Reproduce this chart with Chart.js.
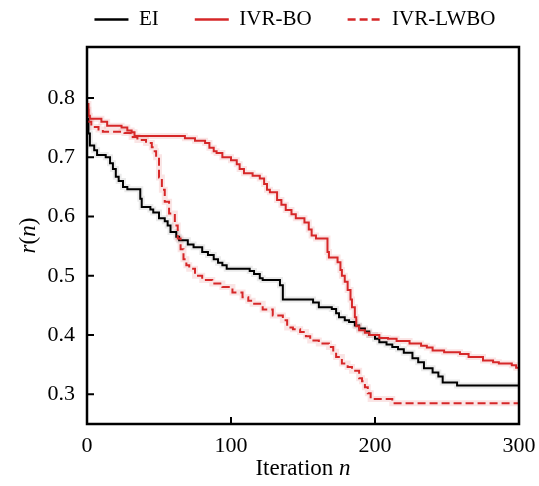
<!DOCTYPE html>
<html>
<head>
  <title>r(n) vs Iteration</title>
  <script src="https://cdn.jsdelivr.net/npm/chart.js"></script>
  <style>
    body {
      margin: 0;
      background-color: #fff;
    }
    canvas {
      display: block;
    }
  </style>
</head>
<body>
  <canvas id="regretChart" width="539" height="486"></canvas>

  <script>
    // values (best-so-far curves, step after each point)
    const eiIter = [0, 1, 2, 5, 7, 13, 16, 18, 20, 22, 25, 28, 37, 38, 44, 46, 50, 54, 56, 58, 62, 64, 70, 74, 80, 84, 88, 91, 94, 97, 113, 116, 120, 122, 134, 136, 157, 161, 170, 173, 175, 179, 182, 186, 189, 193, 196, 200, 203, 208, 212, 216, 220, 226, 230, 234, 240, 244, 247, 257, 300];
    const eiVal = [0.765, 0.74, 0.72, 0.712, 0.704, 0.70, 0.69, 0.68, 0.667, 0.66, 0.65, 0.646, 0.63, 0.616, 0.612, 0.607, 0.597, 0.592, 0.585, 0.574, 0.566, 0.56, 0.553, 0.548, 0.54, 0.535, 0.528, 0.522, 0.518, 0.512, 0.508, 0.503, 0.496, 0.493, 0.484, 0.46, 0.455, 0.447, 0.444, 0.437, 0.43, 0.425, 0.422, 0.416, 0.411, 0.406, 0.40, 0.394, 0.388, 0.384, 0.38, 0.376, 0.37, 0.361, 0.354, 0.344, 0.337, 0.33, 0.32, 0.315, 0.315];

    const boIter = [0, 1, 2, 10, 14, 24, 28, 31, 33, 68, 75, 82, 85, 88, 90, 94, 100, 104, 106, 109, 115, 120, 123, 125, 127, 132, 135, 138, 142, 145, 151, 154, 156, 159, 167, 168, 174, 176, 177, 179, 181, 183, 184, 186, 187, 189, 193, 196, 203, 209, 215, 224, 232, 236, 240, 248, 259, 265, 275, 282, 286, 295, 298, 300];
    const boVal = [0.79, 0.77, 0.765, 0.76, 0.753, 0.75, 0.745, 0.742, 0.736, 0.732, 0.728, 0.724, 0.716, 0.71, 0.707, 0.70, 0.695, 0.688, 0.68, 0.673, 0.669, 0.664, 0.655, 0.645, 0.641, 0.628, 0.62, 0.611, 0.604, 0.597, 0.59, 0.578, 0.568, 0.563, 0.54, 0.531, 0.523, 0.51, 0.50, 0.49, 0.476, 0.46, 0.447, 0.43, 0.415, 0.408, 0.404, 0.40, 0.395, 0.394, 0.39, 0.386, 0.382, 0.379, 0.374, 0.371, 0.368, 0.363, 0.357, 0.354, 0.352, 0.349, 0.345, 0.342];

    const lwIter = [0, 1, 3, 8, 11, 26, 31, 35, 41, 45, 47, 48, 50, 52, 54, 57, 61, 63, 65, 67, 69, 71, 75, 80, 87, 94, 101, 108, 112, 115, 122, 129, 136, 139, 143, 148, 152, 155, 161, 168, 171, 173, 177, 181, 184, 189, 191, 193, 195, 197, 212, 300];
    const lwVal = [0.78, 0.76, 0.751, 0.747, 0.743, 0.741, 0.734, 0.729, 0.724, 0.717, 0.71, 0.70, 0.666, 0.645, 0.625, 0.605, 0.585, 0.563, 0.545, 0.528, 0.518, 0.512, 0.50, 0.493, 0.487, 0.481, 0.472, 0.464, 0.458, 0.453, 0.443, 0.433, 0.425, 0.413, 0.41, 0.405, 0.398, 0.391, 0.386, 0.38, 0.372, 0.363, 0.352, 0.346, 0.34, 0.327, 0.322, 0.312, 0.302, 0.292, 0.285, 0.285];

    const seriesNames = ['EI', 'IVR-BO', 'IVR-LWBO'];
    const xTicks = [0, 100, 200, 300];
    const yTicks = [0.3, 0.4, 0.5, 0.6, 0.7, 0.8];

    const RED = '#d62728';
    const SERIF = '"Liberation Serif", "Times New Roman", serif';

    function toPoints(iters, vals) {
      return iters.map((n, i) => ({ x: n, y: vals[i] }));
    }

    const eiPts = toPoints(eiIter, eiVal);
    const boPts = toPoints(boIter, boVal);
    const lwPts = toPoints(lwIter, lwVal);

    function line(label, data, color, dash, order) {
      return { label, data, borderColor: color, backgroundColor: color, borderWidth: 2, borderDash: dash, stepped: true, order };
    }
    // faint wide copy under each curve for the spread band
    function band(data, color) {
      return { label: 'band', data, borderColor: color, backgroundColor: color, borderWidth: 6, stepped: true, order: 10 };
    }

    // extra room between legend and plot box
    const legendGap = {
      id: 'legendGap',
      beforeLayout(chart) {
        const lg = chart.legend;
        if (lg && !lg._gapPatched) {
          const fit = lg.fit;
          lg.fit = function () {
            fit.call(this);
            this.height += 7;
          };
          lg._gapPatched = true;
        }
      }
    };

    function drawRich(ctx, parts, size) {
      let total = 0;
      parts.forEach(p => {
        ctx.font = (p.italic ? 'italic ' : '') + size + 'px ' + SERIF;
        p.w = ctx.measureText(p.t).width;
        total += p.w;
      });
      let x = -total / 2;
      parts.forEach(p => {
        ctx.font = (p.italic ? 'italic ' : '') + size + 'px ' + SERIF;
        ctx.fillText(p.t, x, 0);
        x += p.w;
      });
    }

    // frame, inward ticks and axis titles
    const frameAndTicks = {
      id: 'frameAndTicks',
      afterDraw(chart) {
        const { ctx, chartArea: a, scales: { x, y } } = chart;
        ctx.save();
        ctx.strokeStyle = '#000';
        ctx.lineWidth = 2;
        ctx.beginPath();
        xTicks.forEach(v => {
          const px = x.getPixelForValue(v);
          ctx.moveTo(px, a.bottom);
          ctx.lineTo(px, a.bottom - 7);
        });
        yTicks.forEach(v => {
          const py = y.getPixelForValue(v);
          ctx.moveTo(a.left, py);
          ctx.lineTo(a.left + 7, py);
        });
        ctx.stroke();
        ctx.lineWidth = 2.5;
        ctx.strokeRect(a.left, a.top, a.width, a.height);

        ctx.fillStyle = '#000';
        ctx.textBaseline = 'middle';
        ctx.textAlign = 'left';
        ctx.save();
        ctx.translate((a.left + a.right) / 2, 469);
        drawRich(ctx, [{ t: 'Iteration ' }, { t: 'n', italic: true }], 23);
        ctx.restore();

        ctx.save();
        ctx.translate(29, (a.top + a.bottom) / 2);
        ctx.rotate(-Math.PI / 2);
        drawRich(ctx, [{ t: 'r', italic: true }, { t: '(' }, { t: 'n', italic: true }, { t: ')' }], 23);
        ctx.restore();
        ctx.restore();
      }
    };

    Chart.defaults.font.family = SERIF;
    Chart.defaults.color = '#000';

    const ctx = document.getElementById('regretChart').getContext('2d');

    const chart = new Chart(ctx, {
      type: 'line',
      data: {
        datasets: [
          line(seriesNames[0], eiPts, '#000000', [], 3),
          line(seriesNames[1], boPts, RED, [], 2),
          line(seriesNames[2], lwPts, RED, [8, 4], 1),
          band(eiPts, 'rgba(0,0,0,0.08)'),
          band(boPts, 'rgba(214,39,40,0.12)'),
          band(lwPts, 'rgba(214,39,40,0.12)')
        ]
      },
      options: {
        responsive: false,
        animation: false,
        devicePixelRatio: 1,
        layout: {
          padding: { top: -27, left: 45, right: -6, bottom: 0 }
        },
        elements: {
          point: { radius: 0 },
          line: { tension: 0 }
        },
        plugins: {
          legend: {
            position: 'top',
            labels: {
              usePointStyle: true,
              pointStyle: 'line',
              pointStyleWidth: 34,
              padding: 36,
              color: '#000',
              font: { size: 21 },
              generateLabels: c => Chart.defaults.plugins.legend.labels.generateLabels(c).map(item => {
                const ds = c.data.datasets[item.datasetIndex];
                item.lineWidth = 2.5;
                item.lineDash = ds.borderDash || [];
                item.strokeStyle = ds.borderColor;
                return item;
              }),
              filter: item => item.datasetIndex < 3,
              sort: (a, b) => a.datasetIndex - b.datasetIndex
            }
          },
          tooltip: { enabled: false }
        },
        scales: {
          x: {
            type: 'linear',
            min: 0,
            max: 300,
            grid: { display: false, drawTicks: false },
            border: { display: false },
            afterBuildTicks: s => { s.ticks = xTicks.map(v => ({ value: v })); },
            afterFit: s => { s.height = 62; s.paddingRight = 20; },
            ticks: {
              padding: 9,
              maxRotation: 0,
              font: { size: 22 },
              callback: v => String(v)
            }
          },
          y: {
            min: 0.25,
            max: 0.886,
            grid: { display: false, drawTicks: false },
            border: { display: false },
            afterBuildTicks: s => { s.ticks = yTicks.map(v => ({ value: v })); },
            afterFit: s => { s.width = 42; },
            ticks: {
              padding: 12,
              font: { size: 22 },
              callback: v => v.toFixed(1)
            }
          }
        }
      },
      plugins: [legendGap, frameAndTicks]
    });
  </script>
</body>
</html>
